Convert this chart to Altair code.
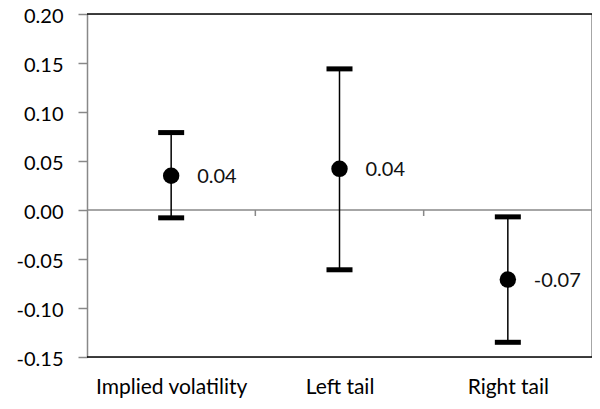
import altair as alt
import pandas as pd

categories = ["Implied volatility", "Left tail", "Right tail"]
estimates = [0.035, 0.042, -0.071]
upper = [0.079, 0.144, -0.007]
lower = [-0.008, -0.061, -0.135]
value_labels = ["0.04", "0.04", "-0.07"]
y_ticks = [-0.15, -0.10, -0.05, 0.00, 0.05, 0.10, 0.15, 0.20]
boundaries = [1, 2]

df = pd.DataFrame({
    "pos": [0.5, 1.5, 2.5],
    "cat": categories,
    "est": estimates,
    "hi": upper,
    "lo": lower,
    "lab": value_labels,
})

FONT = "Lato"
W, H = 505, 343
xs = alt.Scale(domain=[0, 3], nice=False, zero=False)
ys = alt.Scale(domain=[-0.15, 0.20], nice=False, zero=False)

label_expr = "datum.value == 0.5 ? '%s' : datum.value == 1.5 ? '%s' : '%s'" % tuple(categories)

base = alt.Chart(df)

x_axis = alt.Axis(values=[0.5, 1.5, 2.5], labelExpr=label_expr, domain=False, ticks=False,
                  grid=False, title=None, labelFont=FONT, labelFontSize=21, labelColor="#000",
                  labelPadding=19)
y_axis = alt.Axis(values=y_ticks, labelExpr="replace(format(datum.value, '.2f'), '\u2212', '-')",
                  domain=True, domainColor="#888", domainWidth=1.5,
                  ticks=True, tickColor="#888", tickSize=9, tickWidth=1.5, grid=False, title=None,
                  labelFont=FONT, labelFontSize=20, labelColor="#000", labelPadding=15, labelOffset=2)

# frame
top = alt.Chart(pd.DataFrame({"y": [0.20]})).mark_rule(color="#000", strokeWidth=1.5).encode(
    y=alt.Y("y:Q", scale=ys, axis=y_axis), x=alt.value(0), x2=alt.value(W))
bottom = alt.Chart(pd.DataFrame({"y": [-0.15]})).mark_rule(color="#000", strokeWidth=1.5).encode(
    y=alt.Y("y:Q", scale=ys), x=alt.value(0), x2=alt.value(W))
right = alt.Chart(pd.DataFrame({"x": [3]})).mark_rule(color="#888", strokeWidth=1.5).encode(
    x=alt.X("x:Q", scale=xs, axis=x_axis), y=alt.value(0), y2=alt.value(H))
zero = alt.Chart(pd.DataFrame({"y": [0.0]})).mark_rule(color="#888", strokeWidth=1.5).encode(
    y=alt.Y("y:Q", scale=ys), x=alt.value(0), x2=alt.value(W))
zticks = alt.Chart(pd.DataFrame({"x": boundaries})).mark_rule(color="#888", strokeWidth=1.5).encode(
    x=alt.X("x:Q", scale=xs), y=alt.value(196), y2=alt.value(202))

bars = base.mark_rule(color="#000", strokeWidth=1.5).encode(
    x=alt.X("pos:Q", scale=xs), y=alt.Y("lo:Q", scale=ys), y2="hi:Q")
cap_hi = base.mark_tick(color="#000", orient="horizontal", size=26, thickness=5, opacity=1).encode(
    x=alt.X("pos:Q", scale=xs), y=alt.Y("hi:Q", scale=ys))
cap_lo = base.mark_tick(color="#000", orient="horizontal", size=26, thickness=5, opacity=1).encode(
    x=alt.X("pos:Q", scale=xs), y=alt.Y("lo:Q", scale=ys))
pts = base.mark_circle(color="#000", size=270, opacity=1).encode(
    x=alt.X("pos:Q", scale=xs), y=alt.Y("est:Q", scale=ys))
txt = base.mark_text(align="left", baseline="middle", dx=26, dy=1, font=FONT, fontSize=20, color="#111").encode(
    x=alt.X("pos:Q", scale=xs), y=alt.Y("est:Q", scale=ys), text="lab:N")

chart = alt.layer(zero, zticks, right, top, bottom, bars, cap_hi, cap_lo, pts, txt).properties(
    width=W, height=H,
    autosize=alt.AutoSizeParams(type="none"),
    padding={"left": 79, "top": 6, "right": 0, "bottom": 44},
).configure_view(stroke=None).configure(background="white")

chart.save("out.html", embed_options={"renderer": "svg", "actions": False})
